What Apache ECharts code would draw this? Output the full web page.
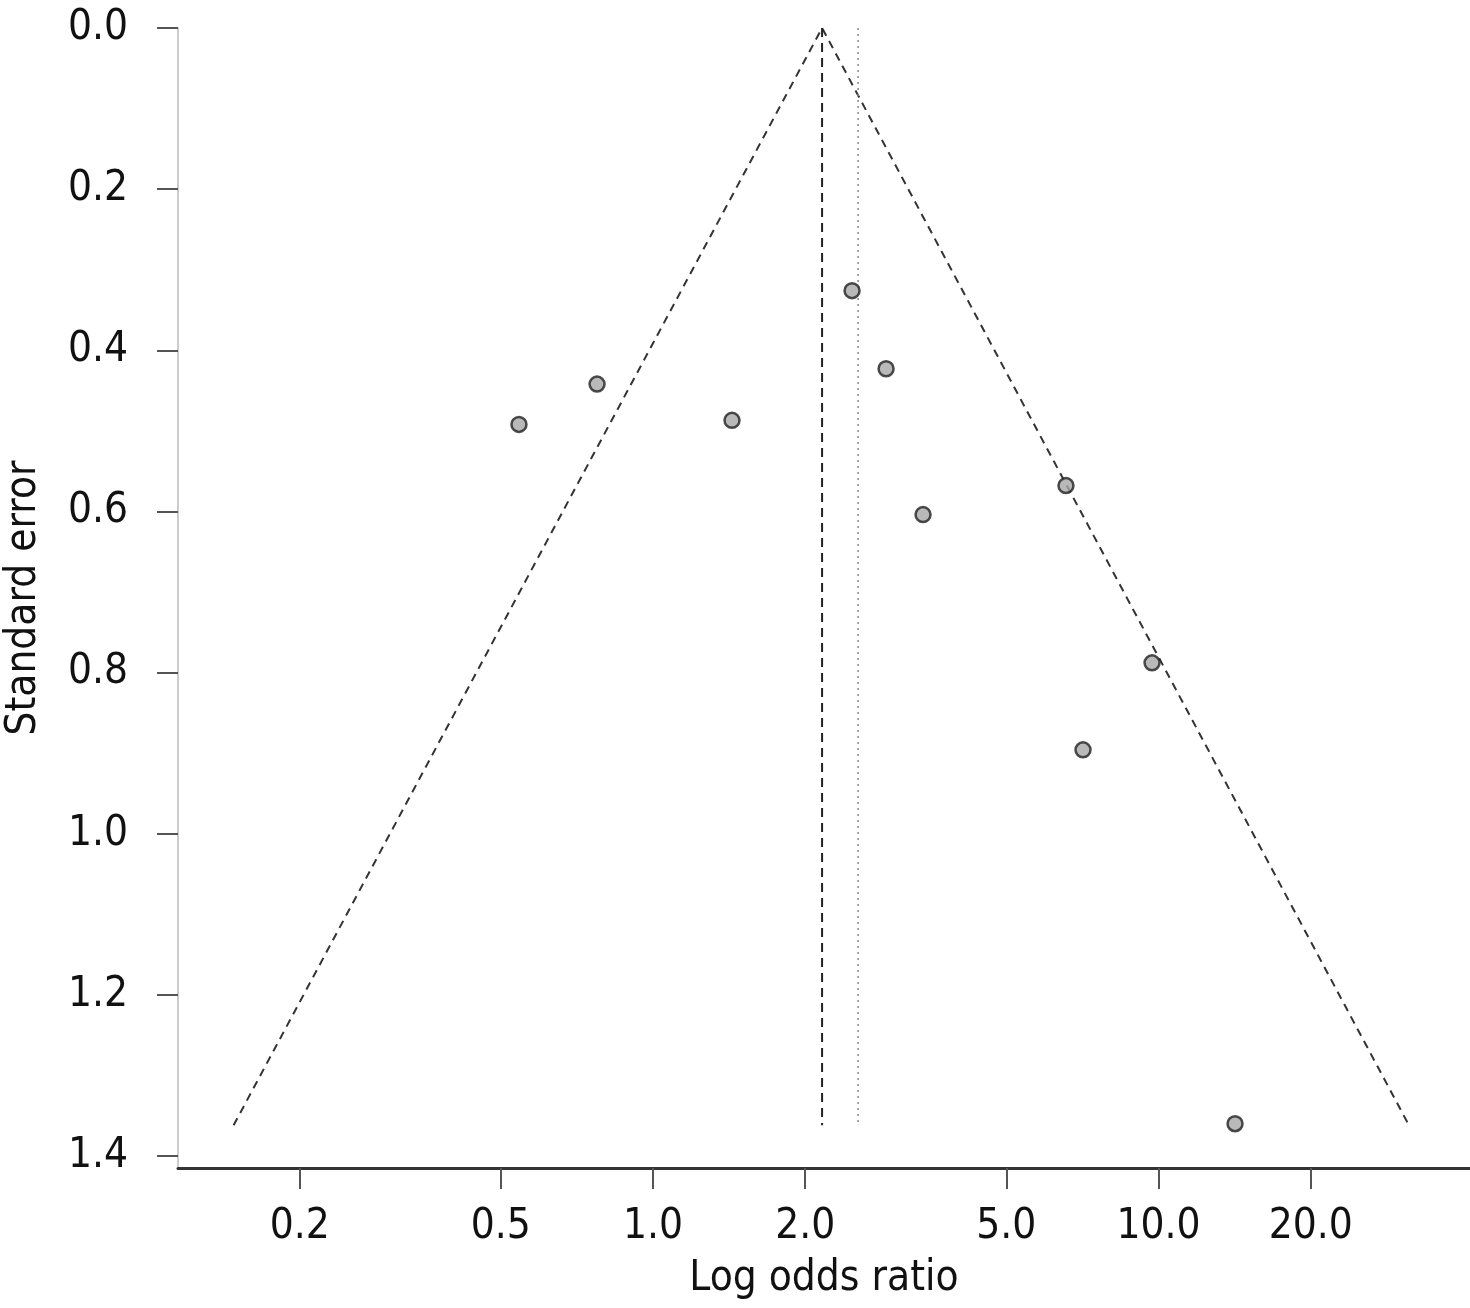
<!DOCTYPE html>
<html>
<head>
<meta charset="utf-8">
<script src="https://cdn.jsdelivr.net/npm/echarts@6/dist/echarts.min.js"></script>
<style>
  html, body { margin: 0; padding: 0; background: #fff; }
  #main { width: 1470px; height: 1308px; }
</style>
</head>
<body>
<div id="main"></div>
<script>
// study values
var studyOR = [0.543, 0.775, 1.433, 2.476, 2.891, 3.421, 6.56, 9.71, 7.09, 14.17]
var studySE = [0.492, 0.442, 0.487, 0.326, 0.423, 0.604, 0.568, 0.788, 0.896, 1.360]

// pooled estimates (dashed / dotted verticals) and funnel limits
var pooledOR = 2.16
var otherOR = 2.545
var funnelSE = [1.362, 0, 1.362]
var funnelOR = [0.148, 2.16, 31.3]

var xTicks = [0.2, 0.5, 1.0, 2.0, 5.0, 10.0, 20.0]
var yTicks = [0, 0.2, 0.4, 0.6, 0.8, 1.0, 1.2, 1.4]

var FONT = '"DejaVu Sans Condensed", "DejaVu Sans", sans-serif'
var lg = function(v) { return Math.log10(v) }

var chart = echarts.init(document.getElementById('main'))

var points = studyOR.map(function(v, i) {
  return [lg(v), studySE[i]]
})
var funnel = funnelOR.map(function(v, i) {
  return [lg(v), funnelSE[i]]
})

var option = {
  backgroundColor: '#fff',
  animation: false,
  grid: {
    left: 178,
    right: 0,
    top: 28,
    bottom: 140,
    outerBoundsMode: 'none'
  },
  xAxis: {
    type: 'value',
    min: -0.9397,
    max: 1.6162,
    name: 'Log odds ratio',
    nameLocation: 'middle',
    nameGap: 90,
    nameTextStyle: {
      fontFamily: FONT,
      fontSize: 42,
      color: '#111'
    },
    splitLine: { show: false },
    axisLine: {
      onZero: false,
      lineStyle: { color: '#333', width: 3 }
    },
    axisTick: {
      show: true,
      length: 21,
      customValues: xTicks.map(lg),
      lineStyle: { color: '#555', width: 2 }
    },
    axisLabel: {
      margin: 38,
      fontFamily: FONT,
      fontSize: 42,
      color: '#111',
      customValues: xTicks.map(lg),
      formatter: function(v) {
        return Math.pow(10, v).toFixed(1)
      }
    }
  },
  yAxis: {
    type: 'value',
    inverse: true,
    min: 0,
    max: 1.415,
    name: 'Standard error',
    nameLocation: 'middle',
    nameGap: 133,
    nameTextStyle: {
      fontFamily: FONT,
      fontSize: 42,
      color: '#111'
    },
    splitLine: { show: false },
    axisLine: {
      show: true,
      onZero: false,
      lineStyle: { color: '#ccc', width: 2 }
    },
    axisTick: {
      show: true,
      length: 21,
      customValues: yTicks,
      lineStyle: { color: '#555', width: 2 }
    },
    axisLabel: {
      margin: 50,
      fontFamily: FONT,
      fontSize: 42,
      color: '#111',
      customValues: yTicks,
      formatter: function(v) {
        return v.toFixed(1)
      }
    }
  },
  series: [
    {
      type: 'line',
      data: funnel,
      symbol: 'none',
      silent: true,
      lineStyle: { color: '#333', width: 2, type: [8, 6] },
      z: 2
    },
    {
      type: 'line',
      data: [[lg(pooledOR), 0], [lg(pooledOR), funnelSE[0]]],
      symbol: 'none',
      silent: true,
      lineStyle: { color: '#222', width: 2, type: [9, 6] },
      z: 2
    },
    {
      type: 'line',
      data: [[lg(otherOR), 0], [lg(otherOR), funnelSE[0]]],
      symbol: 'none',
      silent: true,
      lineStyle: { color: '#888', width: 1.5, type: [2, 4] },
      z: 2
    },
    {
      type: 'scatter',
      data: points,
      symbol: 'circle',
      symbolSize: 15,
      itemStyle: {
        color: '#a8a8a8',
        borderColor: '#222',
        borderWidth: 2.5
      },
      z: 5
    }
  ]
}

chart.setOption(option)
</script>
</body>
</html>
